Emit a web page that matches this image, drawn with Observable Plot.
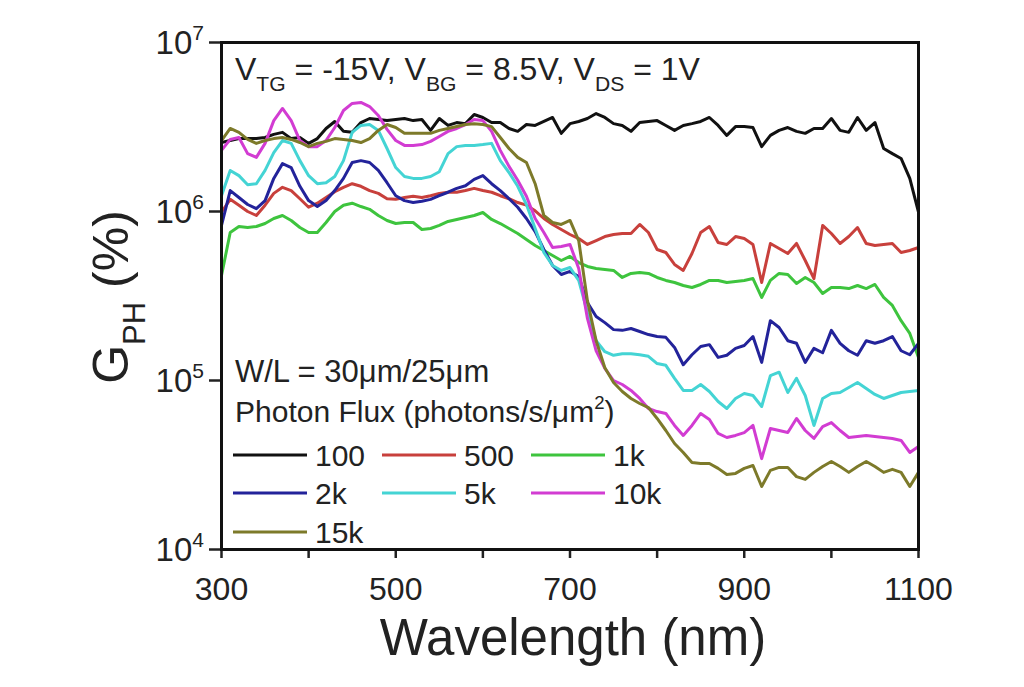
<!DOCTYPE html>
<html><head><meta charset="utf-8">
<script src="https://cdn.jsdelivr.net/npm/d3@7"></script>
<script src="https://cdn.jsdelivr.net/npm/@observablehq/plot@0.6"></script>
<style>html,body{margin:0;padding:0;background:#fff;} svg{display:block} text{white-space:pre}</style>
</head><body><div id="chart"></div>
<script>
const wavelength = [
 300,310,320,330,340,350,360,370,380,390,
 400,410,420,430,440,450,460,470,480,490,
 500,510,520,530,540,550,560,570,580,590,
 600,610,620,630,640,650,660,670,680,690,
 700,710,720,730,740,750,760,770,780,790,
 800,810,820,830,840,850,860,870,880,890,
 900,910,920,930,940,950,960,970,980,990,
 1000,1010,1020,1030,1040,1050,1060,1070,1080,1090,
 1100];

const flux100 = [
 2.56e6,2.63e6,2.70e6,2.70e6,2.70e6,2.74e6,2.86e6,2.94e6,2.70e6,2.74e6,
 2.53e6,2.70e6,3.10e6,3.41e6,2.98e6,2.94e6,3.36e6,3.55e6,3.50e6,3.45e6,
 3.50e6,3.55e6,3.45e6,3.50e6,3.02e6,3.55e6,3.23e6,3.36e6,3.31e6,3.75e6,
 3.60e6,3.36e6,3.36e6,3.10e6,2.98e6,3.27e6,3.23e6,3.41e6,3.60e6,2.90e6,
 3.31e6,3.41e6,3.55e6,3.80e6,3.60e6,3.31e6,3.23e6,2.98e6,3.36e6,3.41e6,
 3.45e6,3.23e6,3.02e6,3.23e6,3.31e6,3.41e6,3.60e6,3.23e6,2.82e6,3.18e6,
 3.18e6,3.14e6,2.42e6,2.82e6,3.02e6,3.14e6,2.98e6,2.90e6,3.10e6,3.10e6,
 3.55e6,3.02e6,2.94e6,3.60e6,3.02e6,3.36e6,2.36e6,2.20e6,2.06e6,1.57e6,
 9.9e5];

const flux500 = [
 9.9e5,1.18e6,1.09e6,1.00e6,9.47e5,1.09e6,1.28e6,1.39e6,1.33e6,1.19e6,
 1.06e6,1.12e6,1.21e6,1.31e6,1.39e6,1.46e6,1.41e6,1.33e6,1.28e6,1.19e6,
 1.18e6,1.21e6,1.23e6,1.21e6,1.24e6,1.28e6,1.30e6,1.30e6,1.33e6,1.37e6,
 1.33e6,1.30e6,1.24e6,1.19e6,1.13e6,1.09e6,1.01e6,9.09e5,8.38e5,7.83e5,
 7.31e5,6.92e5,6.38e5,6.73e5,7.11e5,7.31e5,7.41e5,7.41e5,8.38e5,7.51e5,
 5.96e5,5.72e5,4.86e5,4.48e5,5.64e5,7.51e5,8.15e5,6.55e5,6.38e5,7.11e5,
 6.92e5,6.38e5,3.80e5,6.47e5,6.04e5,5.64e5,6.47e5,5.13e5,4.01e5,8.27e5,
 7.41e5,6.47e5,7.11e5,8.04e5,6.47e5,6.29e5,6.38e5,6.47e5,5.72e5,5.88e5,
 6.12e5];

const flux1k = [
 4.18e5,7.51e5,8.15e5,8.04e5,8.15e5,8.49e5,9.09e5,9.47e5,8.85e5,8.04e5,
 7.51e5,7.51e5,8.61e5,1.00e6,1.09e6,1.12e6,1.07e6,1.03e6,9.47e5,8.85e5,
 8.49e5,8.61e5,8.61e5,7.83e5,7.93e5,8.27e5,8.73e5,8.97e5,9.21e5,9.47e5,
 9.87e5,8.97e5,8.49e5,7.93e5,7.41e5,6.83e5,6.29e5,5.88e5,5.49e5,5.13e5,
 5.42e5,4.99e5,4.73e5,4.60e5,4.54e5,4.48e5,4.07e5,4.30e5,4.36e5,4.30e5,
 4.07e5,3.91e5,3.80e5,3.65e5,3.55e5,3.70e5,3.91e5,3.91e5,3.80e5,3.85e5,
 3.91e5,4.01e5,3.10e5,3.91e5,4.30e5,4.24e5,3.75e5,4.07e5,3.80e5,3.27e5,
 3.55e5,3.55e5,3.50e5,3.65e5,3.50e5,3.70e5,3.10e5,2.78e5,2.26e5,1.90e5,
 1.37e5];

const flux2k = [
 8.27e5,1.33e6,1.21e6,1.10e6,1.04e6,1.16e6,1.57e6,1.92e6,1.82e6,1.41e6,
 1.16e6,1.07e6,1.16e6,1.33e6,1.57e6,1.95e6,2.00e6,1.95e6,1.75e6,1.48e6,
 1.24e6,1.16e6,1.13e6,1.15e6,1.18e6,1.24e6,1.30e6,1.37e6,1.42e6,1.55e6,
 1.63e6,1.46e6,1.33e6,1.19e6,1.06e6,9.09e5,7.61e5,5.96e5,4.79e5,4.24e5,
 4.42e5,4.12e5,2.89e5,2.39e5,2.20e5,2.00e5,1.98e5,2.03e5,1.95e5,1.87e5,
 1.82e5,1.80e5,1.57e5,1.24e5,1.42e5,1.59e5,1.63e5,1.37e5,1.41e5,1.55e5,
 1.61e5,1.82e5,1.28e5,2.26e5,2.06e5,1.72e5,1.66e5,1.28e5,1.55e5,1.46e5,
 1.98e5,1.66e5,1.50e5,1.41e5,1.72e5,1.66e5,1.72e5,1.82e5,1.50e5,1.42e5,
 1.66e5];

const flux5k = [
 1.24e6,1.75e6,1.63e6,1.44e6,1.46e6,1.75e6,2.23e6,2.63e6,2.53e6,2.00e6,
 1.63e6,1.46e6,1.48e6,1.61e6,2.00e6,2.94e6,3.23e6,3.27e6,3.02e6,2.36e6,
 1.82e6,1.61e6,1.57e6,1.57e6,1.61e6,1.72e6,2.20e6,2.42e6,2.46e6,2.46e6,
 2.49e6,2.53e6,2.00e6,1.70e6,1.41e6,1.10e6,7.93e5,5.72e5,4.79e5,4.48e5,
 4.66e5,3.91e5,2.53e5,1.72e5,1.48e5,1.41e5,1.44e5,1.44e5,1.42e5,1.39e5,
 1.26e5,1.23e5,1.03e5,8.73e4,8.73e4,9.47e4,8.61e4,7.51e4,6.83e4,7.83e4,
 8.38e4,8.15e4,7.02e4,1.07e5,1.12e5,8.49e4,1.03e5,8.15e4,5.42e4,7.83e4,
 8.38e4,8.49e4,9.09e4,9.73e4,8.97e4,8.27e4,7.83e4,8.15e4,8.49e4,8.61e4,
 8.73e4];

const flux10k = [
 2.30e6,2.67e6,2.74e6,2.20e6,2.09e6,2.53e6,3.45e6,4.07e6,3.45e6,2.63e6,
 2.42e6,2.42e6,2.63e6,3.14e6,3.96e6,4.36e6,4.42e6,4.18e6,3.70e6,3.06e6,
 2.63e6,2.46e6,2.46e6,2.49e6,2.60e6,2.78e6,2.98e6,3.10e6,3.27e6,3.50e6,
 3.45e6,2.98e6,2.30e6,1.85e6,1.53e6,1.23e6,9.09e5,7.51e5,6.12e5,6.21e5,
 6.38e5,4.60e5,2.33e5,1.50e5,1.18e5,1.00e5,9.47e4,8.73e4,7.83e4,6.83e4,
 6.55e4,6.38e4,5.42e4,4.73e4,5.42e4,6.38e4,5.88e4,4.86e4,4.60e4,4.73e4,
 4.92e4,5.42e4,3.45e4,5.20e4,5.06e4,4.92e4,5.96e4,5.06e4,4.54e4,5.34e4,
 5.64e4,5.06e4,4.60e4,4.66e4,4.73e4,4.66e4,4.60e4,4.54e4,4.42e4,3.75e4,
 4.07e4];

const flux15k = [
 2.63e6,3.10e6,2.94e6,2.67e6,2.53e6,2.63e6,2.70e6,2.74e6,2.67e6,2.56e6,
 2.42e6,2.53e6,2.60e6,2.70e6,2.67e6,2.63e6,2.56e6,2.70e6,3.02e6,3.27e6,
 3.14e6,2.90e6,2.90e6,2.90e6,2.90e6,3.02e6,3.10e6,3.18e6,3.27e6,3.31e6,
 3.27e6,3.18e6,2.74e6,2.36e6,2.09e6,1.95e6,1.46e6,9.47e5,8.61e5,8.38e5,
 8.85e5,6.73e5,2.97e5,1.72e5,1.19e5,9.73e4,8.61e4,7.83e4,7.31e4,6.92e4,
 5.96e4,5.06e4,4.24e4,3.75e4,3.27e4,3.23e4,3.23e4,3.02e4,2.78e4,2.82e4,
 3.02e4,3.14e4,2.36e4,2.94e4,3.06e4,3.06e4,2.70e4,2.60e4,2.86e4,3.10e4,
 3.32e4,3.10e4,2.86e4,3.10e4,3.32e4,3.10e4,2.86e4,2.98e4,2.86e4,2.36e4,
 2.86e4];

const seriesNames = ["100", "500", "1k", "2k", "5k", "10k", "15k"];
const seriesValues = [flux100, flux500, flux1k, flux2k, flux5k, flux10k, flux15k];
const seriesColors = ["#111111", "#c8403c", "#3ec43e", "#23239a", "#44d4d4", "#d23cd2", "#7d7a2a"];

const xTicks = [300, 400, 500, 600, 700, 800, 900, 1000, 1100];
const xTickLabels = [300, 500, 700, 900, 1100];
const yTicks = [1e4, 1e5, 1e6, 1e7];
const yTickExponents = ["4", "5", "6", "7"];

seriesValues.forEach((s, i) => {
  if (s.length !== wavelength.length) throw new Error("length mismatch " + seriesNames[i] + " " + s.length);
});

const table = [];
seriesNames.forEach((name, i) => {
  wavelength.forEach((w, j) => table.push({wavelength: w, value: seriesValues[i][j], series: name}));
});

const font = "'Liberation Sans', Arial, Helvetica, sans-serif";
const ink = "#222";

const plot = Plot.plot({
  width: 1024,
  height: 687,
  marginLeft: 221,
  marginRight: 106,
  marginTop: 42,
  marginBottom: 138,
  style: {fontFamily: font, background: "white", color: ink},
  x: {domain: [300, 1100]},
  y: {type: "log", domain: [1e4, 1e7]},
  color: {domain: seriesNames, range: seriesColors},
  marks: [
    Plot.axisX({ticks: xTicks, tickSize: 9, tickPadding: 19, strokeWidth: 2.5,
      tickFormat: d => xTickLabels.includes(d) ? String(d) : "", fontSize: 32, fill: ink, label: null}),
    Plot.axisY({ticks: yTicks, tickSize: 12, strokeWidth: 2.5, tickFormat: () => "", label: null}),
    Plot.line(table, {x: "wavelength", y: "value", z: "series", stroke: "series", strokeWidth: 3, strokeLinejoin: "round"}),
    Plot.frame({stroke: "#111", strokeWidth: 3})
  ]
});

document.getElementById("chart").appendChild(plot);
const svg = d3.select(plot);
const yScale = plot.scale("y");

function richText(g, x, y, size, parts, anchor = "start", transform = null, subRatio = 0.62) {
  const t = g.append("text")
    .attr("x", x).attr("y", y)
    .attr("font-size", size).attr("font-family", font)
    .attr("fill", ink).attr("text-anchor", anchor);
  if (transform) t.attr("transform", transform);
  let shift = 0;
  for (const [s, kind] of parts) {
    const ts = t.append("tspan").text(s);
    const target = kind === "sub" ? size * 0.33 : kind === "sup" ? -size * 0.42 : 0;
    ts.attr("font-size", kind ? size * subRatio : size);
    if (target !== shift) { ts.attr("dy", target - shift); shift = target; }
  }
  return t;
}

// y tick labels 10^n
yTicks.forEach((v, i) => {
  const ty = yScale.apply(v);
  const t = svg.append("text").attr("x", 204).attr("y", ty + 12)
    .attr("font-size", 33).attr("font-family", font).attr("fill", ink).attr("text-anchor", "end");
  t.append("tspan").text("10");
  t.append("tspan").text(yTickExponents[i]).attr("font-size", 21).attr("dy", -14);
});

// annotations
richText(svg, 235, 80, 32, [["V"], ["TG", "sub"], [" = -15V, V"], ["BG", "sub"], [" = 8.5V, V"], ["DS", "sub"], [" = 1V"]], "start", null, 0.66);
richText(svg, 235, 382, 31, [["W/L = 30\u03bcm/25\u03bcm"]]);
richText(svg, 235, 422, 30, [["Photon Flux (photons/s/\u03bcm"], ["2", "sup"], [")"]]);

// legend
const legendCols = [233, 382, 531];
const legendRows = [455, 493, 532];
seriesNames.forEach((name, i) => {
  const cx = legendCols[i % 3], cy = legendRows[Math.floor(i / 3)];
  svg.append("line").attr("x1", cx).attr("x2", cx + 74).attr("y1", cy).attr("y2", cy)
    .attr("stroke", seriesColors[i]).attr("stroke-width", 3);
  svg.append("text").attr("x", cx + 82).attr("y", cy + 11).attr("font-size", 30)
    .attr("font-family", font).attr("fill", ink).attr("text-anchor", "start").text(name);
});

// axis titles
richText(svg, 573, 655, 51, [["Wavelength (nm)"]], "middle");
richText(svg, 0, 0, 50, [["G"], ["PH", "sub"], [" (%)"]], "middle", "translate(128,297) rotate(-90)");
</script>
</body></html>
